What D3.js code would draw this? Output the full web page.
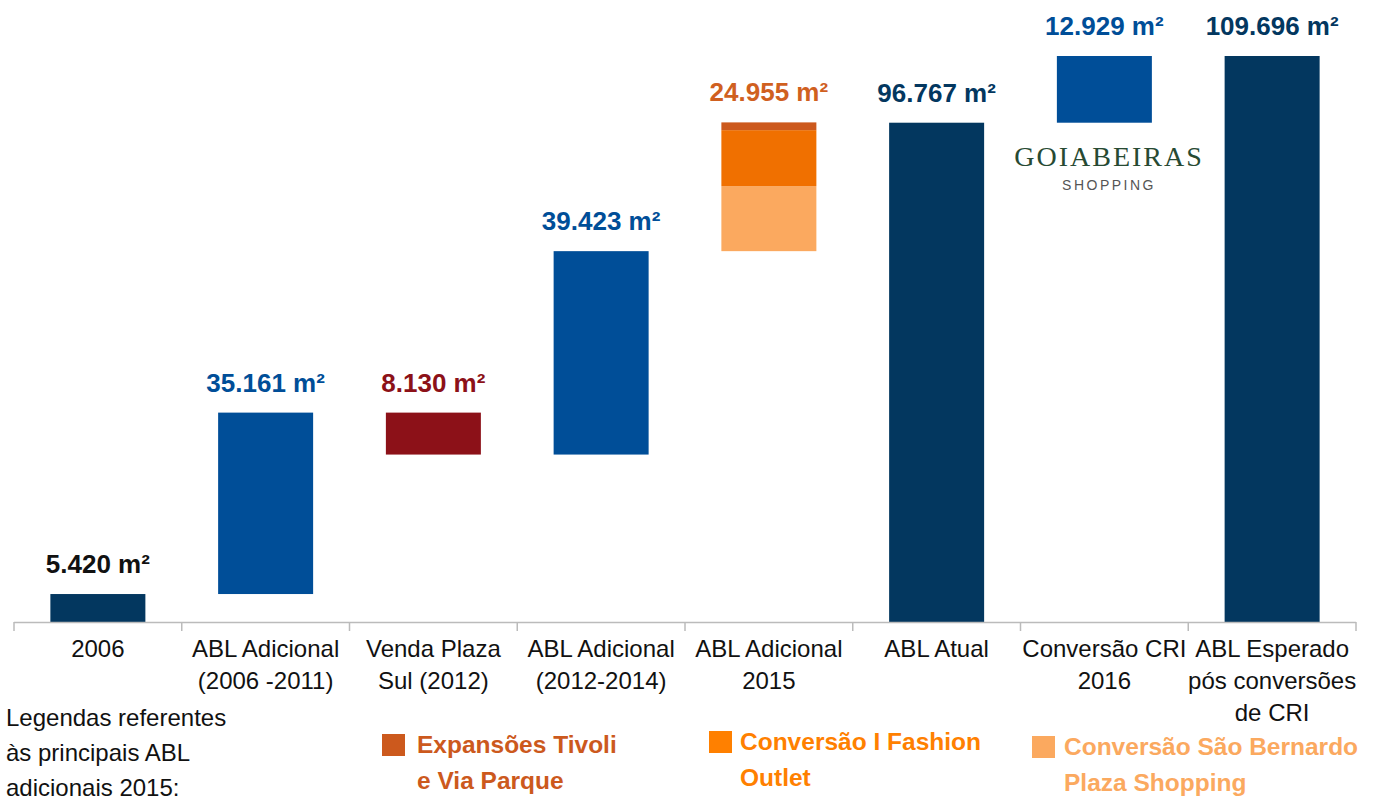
<!DOCTYPE html>
<html>
<head>
<meta charset="utf-8">
<script src="https://cdn.jsdelivr.net/npm/d3@7"></script>
<style>
  body { margin: 0; background: #fff; }
  svg { display: block; font-family: "Liberation Sans", Arial, sans-serif; }
</style>
</head>
<body>
<svg width="1376" height="801"></svg>
<script>
// categories (one array of lines per axis label)
const categories = [
  ['2006'],
  ['ABL Adicional', '(2006 -2011)'],
  ['Venda Plaza', 'Sul (2012)'],
  ['ABL Adicional', '(2012-2014)'],
  ['ABL Adicional', '2015'],
  ['ABL Atual'],
  ['Conversão CRI', '2016'],
  ['ABL Esperado', 'pós conversões', 'de CRI']
]
// waterfall steps: 'total' starts from zero, 'up' adds, 'down' removes
const stepKind = ['total', 'up', 'down', 'up', 'up', 'total', 'up', 'total']
const stepValues = [5420, 35161, 8130, 39423, 24955, 96767, 12929, 109696]
const stepLabels = ['5.420 m²', '35.161 m²', '8.130 m²', '39.423 m²', '24.955 m²', '96.767 m²', '12.929 m²', '109.696 m²']
// the 2015 bar is split in three parts (bottom to top)
const parts2015 = [12600, 10850, 1505]
const legendNames = [
  ['Expansões Tivoli', 'e Via Parque'],
  ['Conversão I Fashion', 'Outlet'],
  ['Conversão São Bernardo', 'Plaza Shopping']
]

const navy = '#03375f', blue = '#004e98', red = '#8c1118'
const barColors = [navy, blue, red, blue, null, navy, blue, navy]
const labelColors = ['#111', blue, red, blue, '#d0601f', navy, blue, navy]
const partColors = ['#fba95f', '#f07000', '#cc591d']
const legendColors = ['#cc591d', '#ff8000', '#fba95f']
const legendText = ['#cc591d', '#ff8000', '#fba95f']

const svg = d3.select('svg')
const baseY = 622

const x = d3.scaleBand().domain(d3.range(categories.length)).range([14, 1356]).padding(0)
const y = d3.scaleLinear().domain([0, 109696]).range([baseY, 56])
const barW = 95

// build running totals
let running = 0
const bars = stepValues.map((v, i) => {
  let lo, hi
  if (stepKind[i] === 'total') { lo = 0; hi = v; running = v }
  else if (stepKind[i] === 'up') { lo = running; hi = running + v; running = hi }
  else { hi = running; lo = running - v; running = lo }
  return { i, lo, hi }
})

const cx = i => x(i) + x.bandwidth() / 2

// plain bars
svg.selectAll('rect.bar')
  .data(bars.filter(d => barColors[d.i]))
  .enter()
  .append('rect')
  .attr('class', 'bar')
  .attr('x', d => cx(d.i) - barW / 2)
  .attr('width', barW)
  .attr('y', d => y(d.hi))
  .attr('height', d => y(d.lo) - y(d.hi))
  .attr('fill', d => barColors[d.i])

// stacked 2015 bar
let acc = bars[4].lo
const stack = parts2015.map((v, k) => {
  const s = { k, lo: acc, hi: acc + v }
  acc += v
  return s
})
svg.selectAll('rect.part')
  .data(stack)
  .enter()
  .append('rect')
  .attr('class', 'part')
  .attr('x', cx(4) - barW / 2)
  .attr('width', barW)
  .attr('y', d => y(d.hi))
  .attr('height', d => y(d.lo) - y(d.hi))
  .attr('fill', d => partColors[d.k])

// value labels
svg.selectAll('text.val')
  .data(bars)
  .enter()
  .append('text')
  .attr('class', 'val')
  .attr('x', d => cx(d.i))
  .attr('y', d => y(d.i === 4 ? acc : d.hi) - 21)
  .attr('text-anchor', 'middle')
  .attr('font-size', 26)
  .attr('font-weight', 'bold')
  .attr('fill', d => labelColors[d.i])
  .text(d => stepLabels[d.i])

// axis line and ticks at category boundaries
const axis = svg.append('g')
axis.append('line')
  .attr('x1', 14).attr('x2', 1356)
  .attr('y1', baseY + 0.5).attr('y2', baseY + 0.5)
  .attr('stroke', '#bbb').attr('stroke-width', 1.5)
axis.selectAll('line.tick')
  .data(d3.range(categories.length + 1))
  .enter()
  .append('line')
  .attr('class', 'tick')
  .attr('x1', i => 14 + i * x.step()).attr('x2', i => 14 + i * x.step())
  .attr('y1', baseY).attr('y2', baseY + 9)
  .attr('stroke', '#bbb').attr('stroke-width', 1.5)

// category labels
const cat = svg.selectAll('text.cat')
  .data(categories)
  .enter()
  .append('text')
  .attr('class', 'cat')
  .attr('text-anchor', 'middle')
  .attr('font-size', 24)
  .attr('fill', '#111')
cat.selectAll('tspan')
  .data((d, i) => d.map((line, k) => ({ line, k, i })))
  .enter()
  .append('tspan')
  .attr('x', d => cx(d.i))
  .attr('y', d => 657 + d.k * 32)
  .text(d => d.line)

// logo for the CRI conversion
const logo = svg.append('g')
logo.append('text')
  .attr('x', 1109).attr('y', 166)
  .attr('text-anchor', 'middle')
  .attr('font-family', '"Liberation Serif", "DejaVu Serif", serif')
  .attr('font-size', 28)
  .attr('letter-spacing', 2)
  .attr('fill', '#274a33')
  .text('GOIABEIRAS')
logo.append('text')
  .attr('x', 1109).attr('y', 190)
  .attr('text-anchor', 'middle')
  .attr('font-size', 14)
  .attr('letter-spacing', 2.5)
  .attr('fill', '#555')
  .text('SHOPPING')

// legend
svg.append('text')
  .attr('font-size', 24)
  .attr('fill', '#111')
  .selectAll('tspan')
  .data(['Legendas referentes', 'às principais ABL', 'adicionais 2015:'])
  .enter()
  .append('tspan')
  .attr('x', 6)
  .attr('y', (d, k) => 726 + k * 35)
  .text(d => d)

const legendX = [382, 709, 1032]
const legendY = [734, 731, 736]
const leg = svg.selectAll('g.leg')
  .data(legendNames)
  .enter()
  .append('g')
  .attr('class', 'leg')
leg.append('rect')
  .attr('x', (d, i) => legendX[i])
  .attr('y', (d, i) => legendY[i])
  .attr('width', 23).attr('height', 22)
  .attr('fill', (d, i) => legendColors[i])
leg.append('text')
  .attr('font-size', 24.5)
  .attr('font-weight', 'bold')
  .attr('fill', (d, i) => legendText[i])
  .selectAll('tspan')
  .data((d, i) => d.map((line, k) => ({ line, k, i })))
  .enter()
  .append('tspan')
  .attr('x', d => legendX[d.i] + 35 - (d.i === 1 ? 4 : 0) - (d.i === 2 ? 3 : 0))
  .attr('y', d => legendY[d.i] + 19 + d.k * 36)
  .text(d => d.line)
</script>
</body>
</html>
